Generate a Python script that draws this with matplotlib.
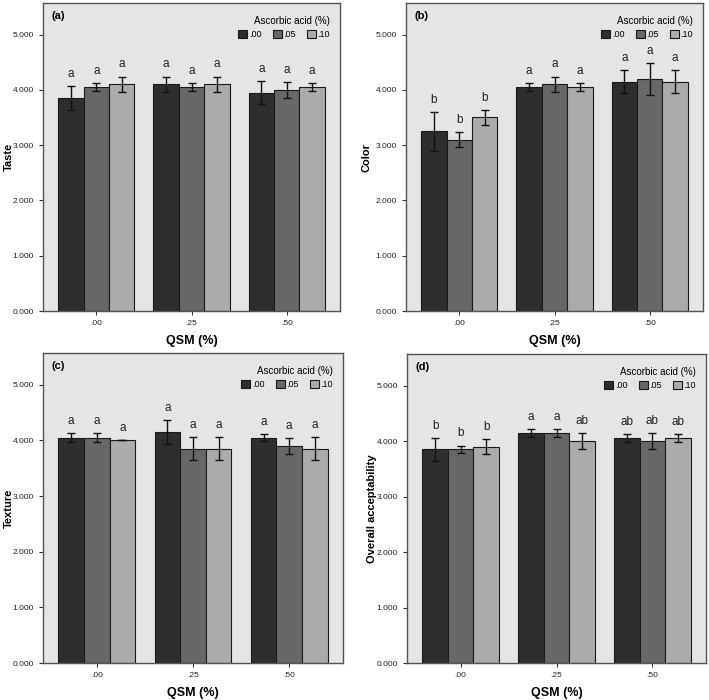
import matplotlib
matplotlib.use("Agg")
import matplotlib.pyplot as plt
from matplotlib.patches import Patch
import numpy as np

plt.rcParams['font.family'] = ['Liberation Sans', 'DejaVu Sans']

qsm_labels = [".00", ".25", ".50"]
aa_labels = [".00", ".05", ".10"]
colors = ["#2e2e2e", "#676767", "#ababab"]

# values[series][group]
taste_mean = [[3.85, 4.10, 3.95], [4.05, 4.05, 4.00], [4.10, 4.10, 4.05]]
taste_err = [[0.21, 0.14, 0.21], [0.07, 0.07, 0.14], [0.14, 0.14, 0.07]]
taste_let = [["a", "a", "a"], ["a", "a", "a"], ["a", "a", "a"]]

color_mean = [[3.25, 4.05, 4.15], [3.10, 4.10, 4.20], [3.50, 4.05, 4.15]]
color_err = [[0.35, 0.08, 0.21], [0.14, 0.14, 0.29], [0.14, 0.07, 0.21]]
color_let = [["b", "a", "a"], ["b", "a", "a"], ["b", "a", "a"]]

texture_mean = [[4.05, 4.15, 4.05], [4.05, 3.85, 3.90], [4.00, 3.85, 3.85]]
texture_err = [[0.075, 0.21, 0.07], [0.075, 0.21, 0.14], [0.0, 0.21, 0.21]]
texture_let = [["a", "a", "a"], ["a", "a", "a"], ["a", "a", "a"]]

overall_mean = [[3.85, 4.15, 4.05], [3.85, 4.15, 4.00], [3.90, 4.00, 4.05]]
overall_err = [[0.21, 0.07, 0.07], [0.07, 0.07, 0.14], [0.14, 0.14, 0.07]]
overall_let = [["b", "a", "ab"], ["b", "a", "ab"], ["b", "ab", "ab"]]

panels = [
    ("(a)", "Taste", taste_mean, taste_err, taste_let, [43, 3, 340, 311], 14),
    ("(b)", "Color", color_mean, color_err, color_let, [406, 3, 703, 311], 371),
    ("(c)", "Texture", texture_mean, texture_err, texture_let, [43, 353, 343, 663], 14),
    ("(d)", "Overall acceptability", overall_mean, overall_err, overall_let, [407, 354, 706, 663], 377),
]

W, H = 709, 700
fig = plt.figure(figsize=(W / 100, H / 100), dpi=100)
fig.patch.set_facecolor("white")

bw = 0.8 / 3
x = np.arange(3)
for lab, ylab, mean, err, lets, (x0, y0, x1, y1), ylx in panels:
    ax = fig.add_axes([x0 / W, (H - y1) / H, (x1 - x0) / W, (y1 - y0) / H])
    ax.set_facecolor("#e5e5e5")
    for s in range(3):
        xs = x + (s - 1) * bw
        ax.bar(xs, mean[s], width=bw, color=colors[s], edgecolor="#1a1a1a", linewidth=0.8, zorder=2)
        ax.errorbar(xs, mean[s], yerr=err[s], fmt="none", ecolor="#111111", elinewidth=1.0,
                    capsize=3, capthick=1.0, zorder=3)
        for i in range(3):
            ax.text(xs[i], mean[s][i] + err[s][i] + 0.11, lets[s][i], ha="center", va="bottom",
                    fontsize=8.5, color="#222222")
    ax.set_xlim(-0.56, 2.56)
    ax.set_ylim(0, 5.57)
    ax.set_yticks([0, 1, 2, 3, 4, 5])
    ax.set_yticklabels(["0.000", "1.000", "2.000", "3.000", "4.000", "5.000"])
    ax.set_xticks(x)
    ax.set_xticklabels(qsm_labels)
    ax.tick_params(axis="both", labelsize=6, length=3, width=0.8, color="#333333", labelcolor="#222222")
    for sp in ax.spines.values():
        sp.set_color("#555555")
        sp.set_linewidth(1.0)
    ax.set_xlabel("QSM (%)", fontsize=9, fontweight="bold", labelpad=6)
    ax.set_ylabel(ylab, fontsize=8, fontweight="bold")
    ax.yaxis.set_label_coords((ylx - x0) / (x1 - x0), 0.5)
    ax.text(0.03, 0.975, lab, transform=ax.transAxes, ha="left", va="top", fontsize=8, fontweight="bold")
    handles = [Patch(facecolor=colors[k], edgecolor="#1a1a1a", linewidth=0.8) for k in range(3)]
    leg = ax.legend(handles, aa_labels, title="Ascorbic acid (%)", ncol=3, loc="upper right",
                    bbox_to_anchor=(0.985, 0.975), frameon=False, fontsize=6.5, title_fontsize=7,
                    handlelength=1.0, handleheight=1.0, handletextpad=0.2, columnspacing=1.2,
                    borderaxespad=0.2, labelspacing=0.3)
    leg._legend_box.align = "right"
    leg._legend_box.sep = 3

fig.savefig("out.png", dpi=100, facecolor="white")
